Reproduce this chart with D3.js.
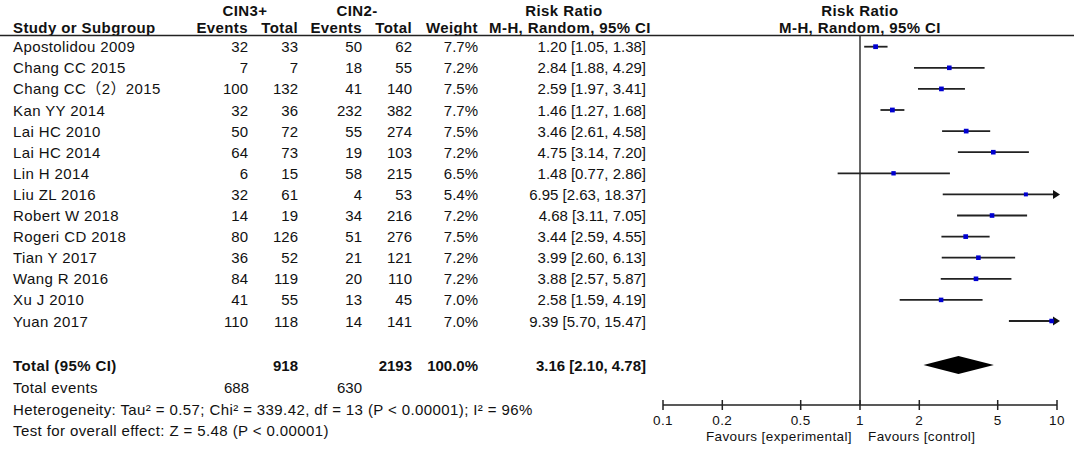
<!DOCTYPE html>
<meta charset="utf-8">
<script src="https://d3js.org/d3.v7.min.js"></script>
<style>
  body { margin: 0; background: #fff; }
  text { font-family: "Liberation Sans", Arial, "Noto Sans CJK SC", sans-serif; font-size: 15px; fill: #111; }
  .b { font-weight: bold; }
  .w { letter-spacing: 0.4px; }
</style>
<div id="my_dataviz"></div>
<script>
// Study data
var studies = ["Apostolidou 2009", "Chang CC 2015", "Chang CC（2）2015", "Kan YY 2014", "Lai HC 2010",
  "Lai HC 2014", "Lin H 2014", "Liu ZL 2016", "Robert W 2018", "Rogeri CD 2018", "Tian Y 2017",
  "Wang R 2016", "Xu J 2010", "Yuan 2017"];
var cin3Events = [32, 7, 100, 32, 50, 64, 6, 32, 14, 80, 36, 84, 41, 110];
var cin3Total  = [33, 7, 132, 36, 72, 73, 15, 61, 19, 126, 52, 119, 55, 118];
var cin2Events = [50, 18, 41, 232, 55, 19, 58, 4, 34, 51, 21, 20, 13, 14];
var cin2Total  = [62, 55, 140, 382, 274, 103, 215, 53, 216, 276, 121, 110, 45, 141];
var weights    = [7.7, 7.2, 7.5, 7.7, 7.5, 7.2, 6.5, 5.4, 7.2, 7.5, 7.2, 7.2, 7.0, 7.0];
var rr   = [1.20, 2.84, 2.59, 1.46, 3.46, 4.75, 1.48, 6.95, 4.68, 3.44, 3.99, 3.88, 2.58, 9.39];
var ciLo = [1.05, 1.88, 1.97, 1.27, 2.61, 3.14, 0.77, 2.63, 3.11, 2.59, 2.60, 2.57, 1.59, 5.70];
var ciHi = [1.38, 4.29, 3.41, 1.68, 4.58, 7.20, 2.86, 18.37, 7.05, 4.55, 6.13, 5.87, 4.19, 15.47];

var total = {rr: 3.16, lo: 2.10, hi: 4.78};
var totalN = [918, 2193];
var totalEvents = [688, 630];
var axisTicks = [0.1, 0.2, 0.5, 1, 2, 5, 10];

var width = 1074, height = 450;

var svg = d3.select("#my_dataviz")
  .append("svg")
    .attr("width", width)
    .attr("height", height);

// scales
var x = d3.scaleLog().domain([0.1, 10]).range([663, 1057]);
var y = d3.scaleLinear().domain([0, 1]).range([46.7, 67.8]);
var fmt2 = d3.format(".2f");

// columns: right edges
var col = {study: 13, e1: 248, n1: 298, e2: 362, n2: 412, w: 478, ci: 646};

function txt(xp, yp, s, anchor, cls) {
  return svg.append("text")
    .attr("x", xp).attr("y", yp)
    .attr("text-anchor", anchor || "end")
    .attr("class", cls || null)
    .text(s);
}

// header
txt(245, 16, "CIN3+", "middle", "b w");
txt(357, 16, "CIN2-", "middle", "b w");
txt(564, 16, "Risk Ratio", "middle", "b w");
txt(x(1), 16, "Risk Ratio", "middle", "b w");
txt(col.study, 33, "Study or Subgroup", "start", "b w");
txt(col.e1, 33, "Events", "end", "b w");
txt(col.n1, 33, "Total", "end", "b w");
txt(col.e2, 33, "Events", "end", "b w");
txt(col.n2, 33, "Total", "end", "b w");
txt(col.w, 33, "Weight", "end", "b w");
txt(570, 33, "M-H, Random, 95% CI", "middle", "b w");
txt(x(1), 33, "M-H, Random, 95% CI", "middle", "b w");

svg.append("line")
  .attr("x1", 0).attr("x2", width)
  .attr("y1", 35.5).attr("y2", 35.5)
  .attr("stroke", "#222").attr("stroke-width", 1.5);

// study rows
studies.forEach(function(s, i) {
  var yb = y(i) + 5.5;
  txt(col.study, yb, s, "start", "w");
  txt(col.e1, yb, cin3Events[i]);
  txt(col.n1, yb, cin3Total[i]);
  txt(col.e2, yb, cin2Events[i]);
  txt(col.n2, yb, cin2Total[i]);
  txt(col.w, yb, weights[i].toFixed(1) + "%");
  txt(col.ci, yb, fmt2(rr[i]) + " [" + fmt2(ciLo[i]) + ", " + fmt2(ciHi[i]) + "]");
});

// totals
var yTot = 365;
txt(col.study, yTot + 5.5, "Total (95% CI)", "start", "b w");
txt(col.n1, yTot + 5.5, totalN[0], "end", "b");
txt(col.n2, yTot + 5.5, totalN[1], "end", "b");
txt(col.w, yTot + 5.5, "100.0%", "end", "b");
txt(col.ci, yTot + 5.5, fmt2(total.rr) + " [" + fmt2(total.lo) + ", " + fmt2(total.hi) + "]", "end", "b");
txt(col.study, 393, "Total events", "start", "w");
txt(col.e1 + 1, 393, totalEvents[0]);
txt(col.e2, 393, totalEvents[1]);
txt(col.study, 415, "Heterogeneity: Tau\u00b2 = 0.57; Chi\u00b2 = 339.42, df = 13 (P < 0.00001); I\u00b2 = 96%", "start", "w");
txt(col.study, 436, "Test for overall effect: Z = 5.48 (P < 0.00001)", "start", "w");

// vertical line of no effect
var axisY = 405;
svg.append("line")
  .attr("x1", x(1)).attr("x2", x(1))
  .attr("y1", 35.5).attr("y2", axisY)
  .attr("stroke", "#333").attr("stroke-width", 1.5);

// CI lines
var xMax = x.range()[1];
studies.forEach(function(s, i) {
  var cy = y(i);
  var x1 = x(Math.max(ciLo[i], 0.1));
  var x2 = Math.min(x(ciHi[i]), xMax);
  svg.append("line")
    .attr("x1", x1).attr("x2", x2)
    .attr("y1", cy).attr("y2", cy)
    .attr("stroke", "#222").attr("stroke-width", 1.8);
  if (ciHi[i] > 10) {
    svg.append("path")
      .attr("d", "M" + (xMax - 4) + "," + (cy - 4.5) + "L" + (xMax + 3) + "," + cy + "L" + (xMax - 4) + "," + (cy + 4.5) + "Z")
      .attr("fill", "#111");
  }
  var sz = 4.6 * Math.sqrt(weights[i] / 7.2);
  svg.append("rect")
    .attr("x", x(rr[i]) - sz / 2).attr("y", cy - sz / 2)
    .attr("width", sz).attr("height", sz)
    .attr("fill", "#0000d0");
});

// pooled diamond
svg.append("path")
  .attr("d", "M" + x(total.lo) + "," + yTot + "L" + x(total.rr) + "," + (yTot - 9) +
    "L" + x(total.hi) + "," + yTot + "L" + x(total.rr) + "," + (yTot + 9) + "Z")
  .attr("fill", "#000");

// axis
var ax = svg.append("g")
  .attr("transform", "translate(0," + axisY + ")");
ax.append("line")
  .attr("x1", x(0.1)).attr("x2", x(10))
  .attr("stroke", "#222").attr("stroke-width", 1.5);
ax.selectAll(".tk").data(axisTicks).enter().append("line")
  .attr("x1", d => x(d)).attr("x2", d => x(d))
  .attr("y1", -5).attr("y2", 5)
  .attr("stroke", "#222").attr("stroke-width", 1.5);
ax.selectAll(".tl").data(axisTicks).enter().append("text")
  .attr("x", d => x(d)).attr("y", 19.5)
  .attr("text-anchor", "middle")
  .attr("class", "w")
  .style("font-size", "13.5px")
  .text(d => d);
txt(x(1) - 8, 441, "Favours [experimental]", "end", "w").style("font-size", "13.5px");
txt(x(1) + 8, 441, "Favours [control]", "start", "w").style("font-size", "13.5px");
</script>
